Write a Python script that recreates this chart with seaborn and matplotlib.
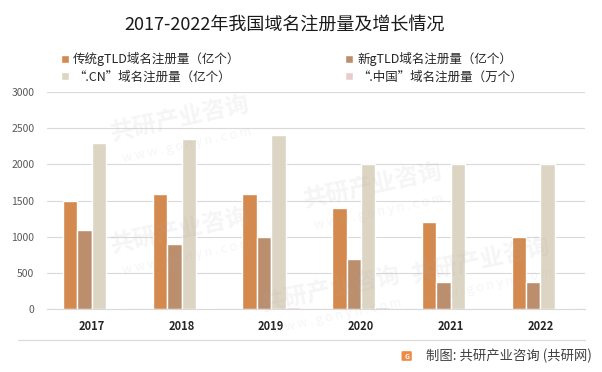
import numpy as np
import pandas as pd
import matplotlib
matplotlib.use('Agg')
import matplotlib.pyplot as plt
import seaborn as sns
from matplotlib.lines import Line2D
from matplotlib.patches import FancyBboxPatch

# data
years = ['2017', '2018', '2019', '2020', '2021', '2022']
series_names = ['传统gTLD域名注册量（亿个）', '新gTLD域名注册量（亿个）',
                '“.CN”域名注册量（亿个）', '“.中国”域名注册量（万个）']
traditional_gtld = [1490, 1590, 1590, 1400, 1200, 1000]
new_gtld = [1090, 900, 1000, 690, 380, 380]
cn_domain = [2300, 2350, 2400, 2000, 2000, 2000]
zhongguo_domain = [10, 20, 25, 25, 8, 10]
colors = ['#D48A4E', '#BB8E6D', '#DDD5C4', '#E8CDCD']

sns.set_style('white')
plt.rcParams['font.family'] = ['Noto Sans CJK SC', 'DejaVu Sans']

df = pd.DataFrame({
    'year': years * 4,
    'series': np.repeat(series_names, len(years)),
    'value': traditional_gtld + new_gtld + cn_domain + zhongguo_domain,
})

fig = plt.figure(figsize=(6.02, 3.72), dpi=100)
ax = fig.add_axes([0.078, 0.169, 0.894, 0.584])

sns.barplot(data=df, x='year', y='value', hue='series', hue_order=series_names,
            palette=colors, width=0.64, gap=0, saturation=1, errorbar=None, ax=ax)

ax.set_ylim(0, 3000)
ax.set_yticks(range(0, 3001, 500))
ax.yaxis.grid(True, color='#D9D9D9', linewidth=0.8)
ax.set_axisbelow(True)
for s in ['top', 'right', 'left']:
    ax.spines[s].set_visible(False)
ax.spines['bottom'].set_color('#D9D9D9')
ax.set_xlabel('')
ax.set_ylabel('')
ax.tick_params(axis='both', length=0)
ax.tick_params(axis='y', labelsize=7.5, labelcolor='#595959', pad=9)
ax.tick_params(axis='x', labelsize=8, pad=8)
for lbl in ax.get_xticklabels():
    lbl.set_fontweight('bold')
ax.set_xlim(-0.5, 5.5)

# legend, filled row by row
handles, labels = ax.get_legend_handles_labels()
ax.get_legend().remove()
order = [0, 2, 1, 3]
fig.legend([handles[i] for i in order], [labels[i] for i in order],
           loc='upper left', ncol=2, bbox_to_anchor=(61 / 602, 1 - 52 / 372),
           frameon=False, borderpad=0, borderaxespad=0,
           fontsize=9, handlelength=0.6, handleheight=0.6, handletextpad=0.35,
           labelspacing=0.33, columnspacing=8.4, labelcolor='#262626')

fig.text(0.472, 0.933, '2017-2022年我国域名注册量及增长情况', ha='center', va='center',
         fontsize=13, color='#1a1a1a')

# separator and footer
fig.add_artist(Line2D([0.03, 0.972], [0.086, 0.086], color='#D9D9D9', linewidth=0.8))
fig.add_artist(FancyBboxPatch((0.669, 0.032), 0.013, 0.022, boxstyle='round,pad=0.002',
                              facecolor='#EE8A45', edgecolor='none', transform=fig.transFigure))
fig.text(0.6755, 0.043, 'G', ha='center', va='center', fontsize=5, color='white', fontweight='bold')
fig.text(0.983, 0.043, '制图: 共研产业咨询 (共研网)', ha='right', va='center', fontsize=9.6, color='#404040')

# faint watermarks
for x, y in [(0.3, 0.68), (0.62, 0.5), (0.3, 0.38), (0.8, 0.3), (0.55, 0.22)]:
    fig.text(x, y, '共研产业咨询', ha='center', va='center', fontsize=17, fontweight='bold',
             color='#B0B0B0', alpha=0.12, rotation=12)
    fig.text(x + 0.01, y - 0.07, 'w w w . g o n y n . c o m', ha='center', va='center', fontsize=9,
             color='#B0B0B0', alpha=0.12, rotation=12)

fig.savefig('out.png', dpi=100)
